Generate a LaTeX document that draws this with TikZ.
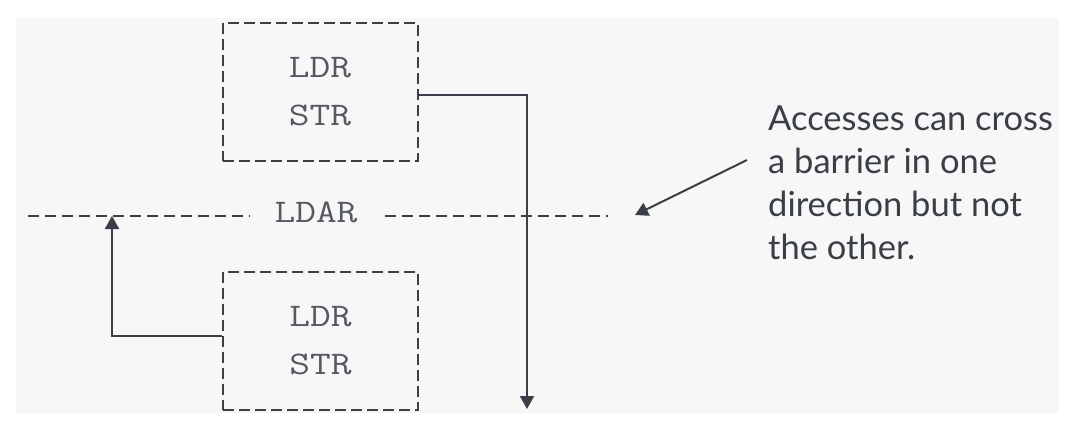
\documentclass[tikz,border=0pt]{standalone}
\usepackage{fontspec}
\usepackage{graphicx}
\setmainfont{Lato}
\usetikzlibrary{arrows.meta}
\definecolor{bgcol}{HTML}{F7F7F7}
\definecolor{linecol}{HTML}{3A3F47}
\definecolor{monocol}{HTML}{555A62}
\definecolor{notecol}{HTML}{393E47}
\newcommand{\wmono}[1]{\scalebox{1.22}[1]{\addfontfeature{LetterSpace=2}#1}}
\tikzset{
  dashbox/.style={draw=linecol, line width=2pt, dash pattern=on 11pt off 5pt,
    minimum width=195pt, minimum height=138pt, inner sep=0pt,
    align=center, text=monocol, font=\ttfamily\fontsize{33}{48}\selectfont},
  barrier/.style={draw=linecol, line width=2pt, dash pattern=on 11pt off 6pt},
  barlabel/.style={text=monocol, font=\ttfamily\fontsize{33}{40}\selectfont, inner xsep=0pt, inner ysep=0pt},
  conn/.style={draw=linecol, line width=2pt, -{Triangle[length=13pt,width=14pt]}},
  note/.style={text=notecol, align=left, inner sep=0pt,
    font=\fontsize{34.5}{42.7}\selectfont},
}
\begin{document}
\begin{tikzpicture}[x=1pt,y=-1pt]
\useasboundingbox (0,0) rectangle (1080,426);
\fill[bgcol] (16,18) rectangle (1059,413);
\node[dashbox] (box1) at (320,91.5) {\wmono{LDR}\\\wmono{STR}};
\node[dashbox] (box2) at (320.5,341) {\wmono{LDR}\\\wmono{STR}};
\node[barlabel] (ldar) at (316,212) {\wmono{LDAR}};
\coordinate (barL) at (28,216);
\coordinate (barLend) at (250,216);
\coordinate (barRstart) at (385,216);
\coordinate (barR) at (608,216);
\draw[barrier] (barL) -- (barLend);
\draw[barrier] (barRstart) -- (barR);
\coordinate (tipA) at (527,409);
\coordinate (tipB) at (112,216);
\draw[conn] ([yshift=-3.5pt]box1.east) -| (tipA);
\draw[conn] ([yshift=5pt]box2.west) -| (tipB);
\node[note, anchor=north west] (txt) at (768,106) {Accesses can cross\\a barrier in one\\direction but not\\the other.};
\coordinate (arrstart) at (747,160);
\coordinate (tipC) at (635,215);
\draw[conn] (arrstart) -- (tipC);
\end{tikzpicture}
\end{document}
